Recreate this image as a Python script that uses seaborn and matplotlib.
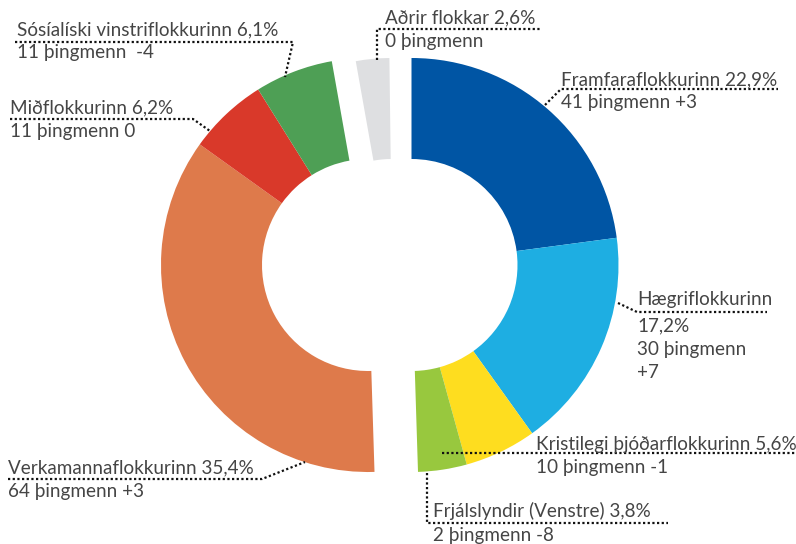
import matplotlib
matplotlib.use("Agg")
import matplotlib.pyplot as plt
import seaborn as sns

# Flokkar í sömu röð og í hringnum (réttsælis frá toppi)
flokkar = ["Framfaraflokkurinn", "Hægriflokkurinn", "Kristilegi þjóðarflokkurinn",
           "Frjálslyndir (Venstre)", "Verkamannaflokkurinn", "Miðflokkurinn",
           "Sósíalíski vinstriflokkurinn", "Aðrir flokkar"]
fylgi = [22.9, 17.2, 5.6, 3.8, 35.4, 6.2, 6.1, 2.6]
thingmenn = [41, 30, 10, 2, 64, 11, 11, 0]
breyting = ["+3", "+7", "-1", "-8", "+3", "0", " -4", ""]
hopur = ["hægri", "hægri", "hægri", "hægri", "vinstri", "vinstri", "vinstri", "miðja"]
litir = ["#0055a4", "#1eaee2", "#fedd1f", "#98c83e", "#de7a4b", "#d9392a", "#4e9f55", "#dedfe1"]

W, H = 796, 544
miðjur = {"hægri": (411.5, 265), "vinstri": (368, 265), "miðja": (392, 265)}
R, breidd = 207, 101

# staðsetning merkja: x, grunnlínur, punktalína
merki = {
    "Framfaraflokkurinn": dict(x=561, y=[85, 108], leid=[(545, 105), (561, 89), (778, 89)]),
    "Hægriflokkurinn": dict(x=637, y=[305, 331, 355, 378], leid=[(618, 303), (637, 312), (767, 312)]),
    "Kristilegi þjóðarflokkurinn": dict(x=536, y=[450, 473], leid=[(442, 453), (796, 453)]),
    "Frjálslyndir (Venstre)": dict(x=433, y=[517, 541], leid=[(427, 473), (427, 523), (668, 523)]),
    "Verkamannaflokkurinn": dict(x=8, y=[473, 497], leid=[(8, 479), (262, 479), (305, 462)]),
    "Miðflokkurinn": dict(x=10, y=[113, 137], leid=[(10, 119), (193, 119), (210, 131)]),
    "Sósíalíski vinstriflokkurinn": dict(x=17, y=[35, 58], leid=[(15, 42), (293, 42), (285, 77)]),
    "Aðrir flokkar": dict(x=385, y=[23, 47], leid=[(377, 60), (377, 29), (542, 29)]),
}

sns.set_theme(style="white")
plt.rcParams["font.family"] = ["Lato", "DejaVu Sans"]
palette = sns.color_palette(litir)

fig = plt.figure(figsize=(W / 100, H / 100), dpi=100)
ax = fig.add_axes([0, 0, 1, 1])

# y-ás snýr niður, svo counterclock=True teiknar réttsælis á skjánum
wedges, _ = ax.pie([v / 100 for v in fylgi], colors=palette, radius=R, startangle=-90,
                   counterclock=True, normalize=False,
                   wedgeprops=dict(width=breidd, linewidth=0))
for w, g in zip(wedges, hopur):
    w.set_center(miðjur[g])

ax.set_xlim(0, W)
ax.set_ylim(H, 0)
ax.set_aspect("auto")
ax.axis("off")

for nafn, p, n, b in zip(flokkar, fylgi, thingmenn, breyting):
    m = merki[nafn]
    pct = f"{p:.1f}".replace(".", ",") + "%"
    if nafn == "Hægriflokkurinn":
        linur = [nafn, pct, f"{n} þingmenn", b]
    else:
        linur = [f"{nafn} {pct}", f"{n} þingmenn {b}".rstrip()]
    for lina, y in zip(linur, m["y"]):
        ax.text(m["x"], y, lina, fontsize=13.6, fontweight="normal", color="#454545",
                ha="left", va="baseline")
    xs, ys = zip(*m["leid"])
    ax.plot(xs, ys, color="#111111", lw=1.6, linestyle=(0, (1, 1.1)))

plt.savefig("out.png", dpi=100)
